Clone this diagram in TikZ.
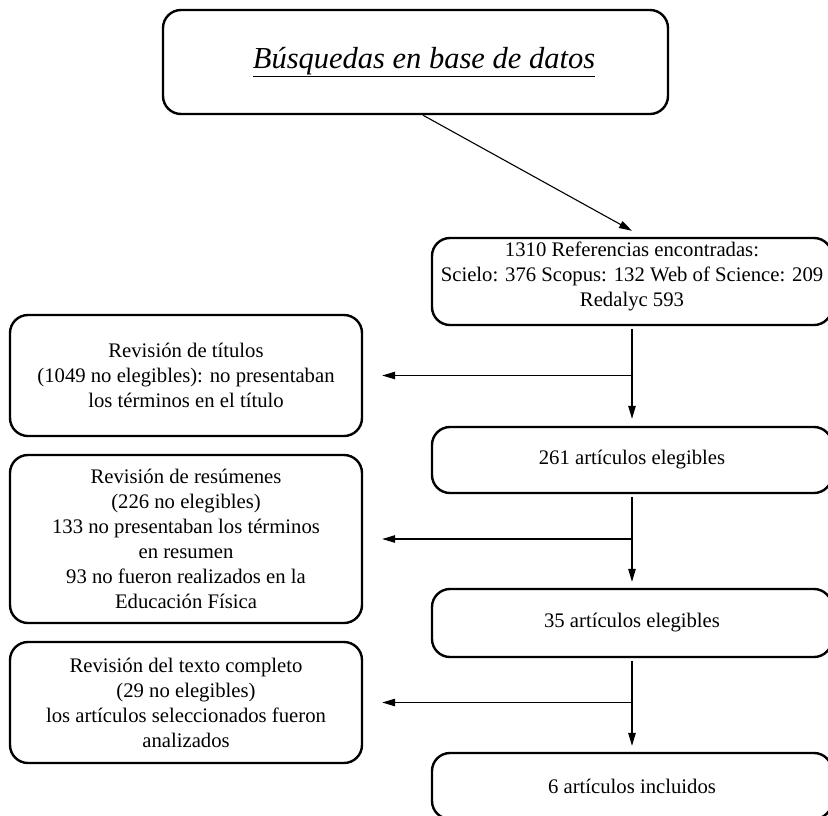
\documentclass[tikz,border=0pt]{standalone}
\usepackage{fontspec}
\setmainfont{Liberation Serif}
\usetikzlibrary{arrows.meta}
\begin{document}
\begin{tikzpicture}[x=1pt,y=-1pt,
  box/.style={draw, line width=2.4pt, rounded corners=18pt, align=center, inner sep=0pt,
              font=\fontsize{20.7}{25}\selectfont},
  rbox/.style={box, minimum width=400pt},
  lbox/.style={box, minimum width=352pt},
  link/.style={line width=1.1pt},
  arr/.style={link, -{Triangle[length=13pt,width=7.5pt]}},
  ]
\useasboundingbox (0,0) rectangle (828,815);

\node[box, minimum width=505pt, minimum height=104pt, font=\fontsize{30.5}{36}\selectfont\itshape]
  (t) at (415.5,62) {\hspace*{17pt}\underline{Búsquedas en base de datos}};

\node[rbox, minimum height=87pt] (b2) at (632,281.5)
  {\raisebox{5pt}[\height][\depth]{\begin{tabular}{@{}c@{}}1310 Referencias encontradas:\\
   Scielo: 376 Scopus: 132 Web of Science: 209\\ Redalyc 593\end{tabular}}};
\node[rbox, minimum height=66pt] (b3) at (632,460) {261 artículos elegibles};
\node[rbox, minimum height=68pt] (b4) at (632,623) {35 artículos elegibles};
\node[rbox, minimum height=66pt] (b5) at (632,786) {6 artículos incluidos};

\node[lbox, minimum height=121pt] (l1) at (186,375.5)
  {Revisión de títulos\\ (1049 no elegibles): no presentaban\\ los términos en el título};
\node[lbox, minimum height=168pt] (l2) at (186,539)
  {Revisión de resúmenes\\ (226 no elegibles)\hspace*{9pt}\\ 133 no presentaban los términos\\
   en resumen\\ 93 no fueron realizados en la\\ Educación Física};
\node[lbox, minimum height=121pt] (l3) at (186,702.5)
  {Revisión del texto completo\\ (29 no elegibles)\hspace*{48pt}\\
   los artículos seleccionados fueron\\ analizados};

\draw[arr] ([xshift=7.5pt]t.south) -- ([yshift=6pt]b2.north);

\coordinate (j1) at (b2.south |- l1.east);
\coordinate (j2) at (b3.south |- l2.east);
\coordinate (j3) at (b4.south |- l3.east);

\draw[arr] ([yshift=-3pt]b2.south) -- ([yshift=7pt]b3.north);
\draw[arr] (j1) -- ([xshift=19pt]l1.east);
\draw[arr] ([yshift=-3pt]b3.south) -- ([yshift=6pt]b4.north);
\draw[arr] (j2) -- ([xshift=19pt]l2.east);
\draw[arr] ([yshift=-3pt]b4.south) -- ([yshift=6pt]b5.north);
\draw[arr] (j3) -- ([xshift=19pt]l3.east);
\end{tikzpicture}
\end{document}
